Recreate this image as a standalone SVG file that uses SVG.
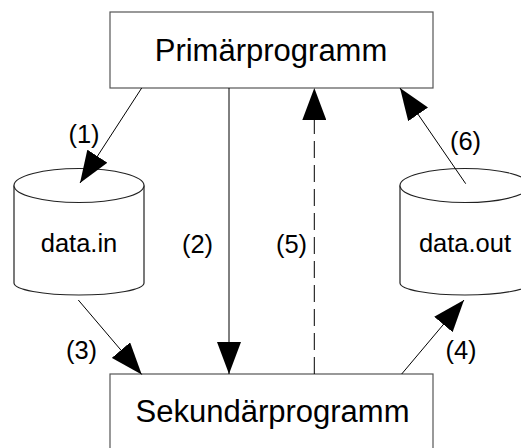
<svg xmlns="http://www.w3.org/2000/svg" width="521" height="448" viewBox="0 0 521 448">
<style>
.box{fill:#fff;stroke:#555;stroke-width:1.2}
.cyl{fill:#fff;stroke:#222;stroke-width:1.2}
.lbl{font-family:"Liberation Sans",Arial,sans-serif;fill:#000;text-anchor:middle}
.big{font-size:31px}
.mid{font-size:25.5px}
.edge{fill:none;stroke:#000;stroke-width:1}
.dash{stroke-dasharray:17,7}
</style>
<defs>
<marker id="ah" viewBox="0 0 32 24" markerWidth="32" markerHeight="24" refX="32" refY="12" orient="auto" markerUnits="userSpaceOnUse">
<path d="M0,0 L32,12 L0,24 z" fill="#000"/>
</marker>
</defs>
<rect width="521" height="448" fill="#fff"/>
<g id="primaer">
<rect class="box" x="110" y="12" width="323" height="76"/>
<text class="lbl big" x="271" y="61">Primärprogramm</text>
</g>
<g id="sekundaer">
<rect class="box" x="110" y="374" width="323" height="100"/>
<text class="lbl big" x="272.5" y="422">Sekundärprogramm</text>
</g>
<g id="datain">
<path class="cyl" d="M14,185.5 L14,283 A65,12 0 0 0 144,283 L144,185.5"/>
<ellipse class="cyl" cx="79" cy="185.5" rx="65" ry="17"/>
<text class="lbl mid" x="79" y="252">data.in</text>
</g>
<g id="dataout">
<path class="cyl" d="M400,185.5 L400,283 A65,12 0 0 0 530,283 L530,185.5"/>
<ellipse class="cyl" cx="465" cy="185.5" rx="65" ry="17"/>
<text class="lbl mid" x="465" y="252">data.out</text>
</g>
<g id="connectors">
<line class="edge" x1="141.7" y1="88" x2="80" y2="183" marker-end="url(#ah)"/>
<line class="edge" x1="229" y1="88" x2="229" y2="374" marker-end="url(#ah)"/>
<line class="edge" x1="78.3" y1="300" x2="141.7" y2="374.5" marker-end="url(#ah)"/>
<line class="edge" x1="401.7" y1="374" x2="464" y2="300" marker-end="url(#ah)"/>
<line class="edge dash" x1="314.3" y1="374" x2="314.3" y2="88" marker-end="url(#ah)"/>
<line class="edge" x1="465.7" y1="183.7" x2="400" y2="88" marker-end="url(#ah)"/>
<text class="lbl mid" x="84" y="143">(1)</text>
<text class="lbl mid" x="197.5" y="253">(2)</text>
<text class="lbl mid" x="81.5" y="359">(3)</text>
<text class="lbl mid" x="461" y="359">(4)</text>
<text class="lbl mid" x="291.5" y="253">(5)</text>
<text class="lbl mid" x="465.5" y="150">(6)</text>
</g>
</svg>
